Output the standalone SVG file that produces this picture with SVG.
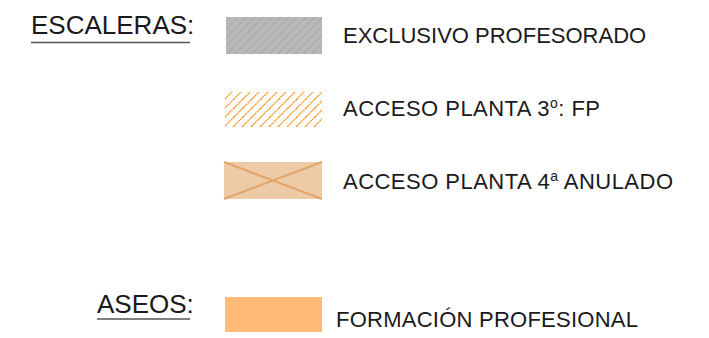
<svg xmlns="http://www.w3.org/2000/svg" width="709" height="338" viewBox="0 0 709 338">
<style>
.t{font-family:"Liberation Sans",Arial,sans-serif;fill:#1a1a1a}
.h{font-size:26px}
.l{font-size:22px}
.ul{stroke:#555;stroke-width:1.6}
</style>
<defs>
<pattern id="pg" patternUnits="userSpaceOnUse" width="8.5" height="8.5">
<path d="M-2,2 L2,-2 M0,8.5 L8.5,0 M6.5,10.5 L10.5,6.5" stroke="#8f8f8f" stroke-width="0.9" stroke-dasharray="1.5 0.8"/>
</pattern>
<pattern id="po" patternUnits="userSpaceOnUse" width="9" height="9">
<path d="M-2,2 L2,-2 M0,9 L9,0 M7,11 L11,7" stroke="#f7931e" stroke-width="1.3" stroke-dasharray="1.6 0.6"/>
</pattern>
</defs>
<rect width="709" height="338" fill="#fff"/>
<g id="escaleras-title">
<text class="t h" x="31" y="34">ESCALERAS:</text>
<line class="ul" x1="31" y1="42.5" x2="190" y2="42.5"/>
</g>
<g id="exclusivo">
<rect x="226" y="17" width="96" height="37" fill="#b8b8b8"/>
<rect x="226" y="17" width="96" height="37" fill="url(#pg)"/>
<text class="t l" x="343" y="43">EXCLUSIVO PROFESORADO</text>
</g>
<g id="acceso3">
<rect x="225" y="92" width="97" height="35" fill="url(#po)"/>
<text class="t l" x="343" y="116" textLength="257" lengthAdjust="spacing">ACCESO PLANTA 3<tspan font-size="14" dy="-8">o</tspan><tspan dy="8">: FP</tspan></text>
</g>
<g id="acceso4">
<rect x="224" y="162" width="98" height="37" fill="#eecba7"/>
<path d="M224,162 L322,199 M224,199 L322,162" stroke="#e2a56a" stroke-width="2.2"/>
<text class="t l" x="343" y="189" textLength="330" lengthAdjust="spacing">ACCESO PLANTA 4<tspan font-size="14" dy="-8">a</tspan><tspan dy="8"> ANULADO</tspan></text>
</g>
<g id="aseos-title">
<text class="t h" x="97" y="313">ASEOS:</text>
<line class="ul" x1="97" y1="319" x2="190" y2="319"/>
</g>
<g id="fp">
<rect x="225" y="297" width="97" height="35" fill="#ffbb77"/>
<text class="t l" x="336" y="327" textLength="302" lengthAdjust="spacing">FORMACIÓN PROFESIONAL</text>
</g>
<g id="connectors"/>
</svg>
